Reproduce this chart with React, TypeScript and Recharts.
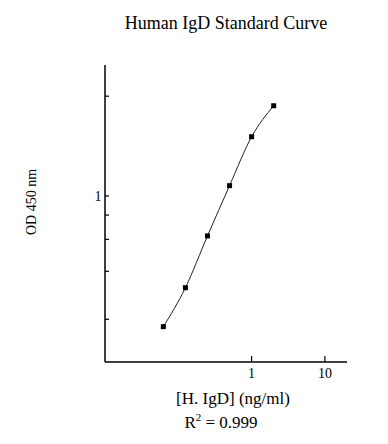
import React from 'react';
import { LineChart, Line, XAxis, YAxis } from 'recharts';

const title = 'Human IgD Standard Curve';
const xAxisTitle = '[H. IgD] (ng/ml)';
const yAxisTitle = 'OD 450 nm';
const rSquared = '0.999';

const concentrations = [0.0625, 0.125, 0.25, 0.5, 1, 2];
const odValues = [0.237, 0.364, 0.644, 1.12, 1.92, 2.7];

const xTicks = [1, 10];
const xTickLabels = ['1', '10'];
const yTicks = [3, 1, 0.81, 0.62, 0.436, 0.257];
const yTickLabels = ['', '1', '', '', '', ''];

const xDomain = [0.01, 20];
const yDomain = [0.1606, 4.23];

const data = concentrations.map((c, i) => ({ c, od: odValues[i] }));

const FONT = '"Liberation Serif", "Times New Roman", serif';

const XTick = (props: any) => {
  const { x, y, payload } = props;
  const idx = xTicks.indexOf(payload.value);
  return (
    <g>
      <line x1={x} x2={x} y1={y} y2={y - 6} stroke="#000" strokeWidth={1.2} />
      <text x={x} y={y + 15.7} textAnchor="middle" fontFamily={FONT} fontSize={14} fill="#000">
        {idx >= 0 ? xTickLabels[idx] : ''}
      </text>
    </g>
  );
};

const YTick = (props: any) => {
  const { x, y, payload } = props;
  const idx = yTicks.indexOf(payload.value);
  return (
    <g>
      <line x1={x} x2={x + 4} y1={y} y2={y} stroke="#000" strokeWidth={1.2} />
      <text x={x - 3.5} y={y + 5} textAnchor="end" fontFamily={FONT} fontSize={14} fill="#000">
        {idx >= 0 ? yTickLabels[idx] : ''}
      </text>
    </g>
  );
};

const SquareDot = (props: any) => {
  const { cx, cy, index } = props;
  return <rect key={`d${index}`} x={cx - 2.5} y={cy - 2.5} width={5} height={5} fill="#000" />;
};

export default function App() {
  return (
    <div style={{ position: 'absolute', left: 0, top: 0, width: 388, height: 444, background: '#fff' }}>
      <LineChart
        width={388}
        height={444}
        data={data}
        margin={{ top: 65, right: 41, bottom: 52, left: 65 }}
      >
        <XAxis
          dataKey="c"
          type="number"
          scale="log"
          domain={xDomain}
          ticks={xTicks}
          allowDataOverflow
          height={30}
          tickSize={0}
          tickMargin={0}
          tick={<XTick />}
          axisLine={{ stroke: '#000', strokeWidth: 1.5 }}
          tickLine={false}
          interval={0}
        />
        <YAxis
          dataKey="od"
          type="number"
          scale="log"
          domain={yDomain}
          ticks={yTicks}
          allowDataOverflow
          width={40}
          tickSize={0}
          tickMargin={0}
          tick={<YTick />}
          axisLine={{ stroke: '#000', strokeWidth: 1.5 }}
          tickLine={false}
          interval={0}
        />
        <Line
          dataKey="od"
          type="monotone"
          stroke="#222"
          strokeWidth={1}
          dot={<SquareDot />}
          isAnimationActive={false}
        />
      </LineChart>
      <svg width={388} height={444} style={{ position: 'absolute', left: 0, top: 0, pointerEvents: 'none' }}>
        <text x={226} y={29} textAnchor="middle" fontFamily={FONT} fontSize={18} fill="#000">
          {title}
        </text>
        <text x={233} y={404} textAnchor="middle" fontFamily={FONT} fontSize={17} fill="#000">
          {xAxisTitle}
        </text>
        <text x={221} y={428} textAnchor="middle" fontFamily={FONT} fontSize={17} fill="#000">
          R<tspan dy={-7} fontSize={11}>2</tspan>
          <tspan dy={7}>{' = ' + rSquared}</tspan>
        </text>
        <text
          x={36}
          y={202}
          textAnchor="middle"
          fontFamily={FONT}
          fontSize={14}
          fill="#000"
          transform="rotate(-90 36 202)"
        >
          {yAxisTitle}
        </text>
      </svg>
    </div>
  );
}
